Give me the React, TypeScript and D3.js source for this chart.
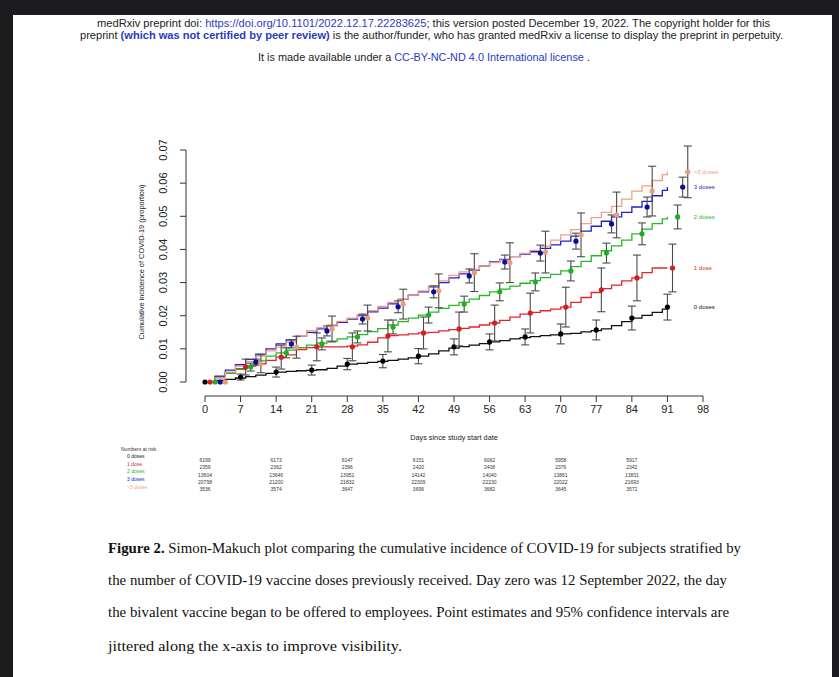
import React from 'react';
import * as d3 from 'd3';

// ---------- data ----------
const seriesNames = ['0 doses', '1 dose', '2 doses', '3 doses', '>3 doses'];
const seriesColors = ['#111111', '#e0282c', '#27b827', '#2020c8', '#f0a086'];
const pointColors = ['#000000', '#d41e22', '#1fae1f', '#0c0c9c', '#ec9a7c'];
const jitterDays = [0, 1, 2, 3, 4];

const lineDays = [0, 2, 4, 6, 8, 10, 12, 14, 16, 18, 20, 22, 24, 26, 28, 30, 32, 34, 36, 38, 40, 42, 44, 46, 48, 50, 52, 54, 56, 58, 60, 62, 64, 66, 68, 70, 72, 74, 76, 78, 80, 82, 84, 86, 88, 90, 91];
const line0 = [0, .0005, .0008, .0012, .0016, .0021, .0026, .0030, .0032, .0034, .0035, .0037, .0041, .0048, .0054, .0056, .0059, .0062, .0065, .0069, .0073, .0078, .0085, .0094, .0102, .0107, .0111, .0116, .0121, .0125, .0130, .0134, .0137, .0140, .0142, .0145, .0147, .0151, .0155, .0160, .0170, .0182, .0193, .0201, .0210, .0220, .0226];
const line1 = [0, .0015, .0028, .0040, .0048, .0055, .0065, .0075, .0082, .0098, .0104, .0106, .0106, .0106, .0108, .0112, .0120, .0133, .0140, .0142, .0145, .0148, .0150, .0154, .0158, .0162, .0166, .0172, .0178, .0186, .0196, .0205, .0210, .0215, .0220, .0226, .0240, .0255, .0270, .0282, .0292, .0305, .0314, .0330, .0344, .0344, .0344];
const line2 = [0, .0014, .0026, .0038, .0050, .0064, .0078, .0088, .0096, .0104, .0111, .0117, .0123, .0130, .0136, .0143, .0152, .0161, .0172, .0182, .0193, .0202, .0211, .0222, .0231, .0240, .0250, .0261, .0272, .0280, .0289, .0298, .0306, .0315, .0325, .0335, .0348, .0364, .0381, .0396, .0411, .0428, .0447, .0461, .0478, .0492, .0498];
const line3 = [0, .0018, .0036, .0052, .0068, .0084, .0100, .0115, .0127, .0139, .0150, .0160, .0170, .0180, .0190, .0200, .0212, .0223, .0236, .0249, .0262, .0272, .0287, .0300, .0314, .0326, .0338, .0350, .0362, .0370, .0378, .0386, .0393, .0403, .0414, .0425, .0440, .0455, .0470, .0485, .0498, .0512, .0528, .0545, .0562, .0578, .0588];
const line4 = [0, .0012, .0030, .0048, .0062, .0078, .0094, .0105, .0120, .0140, .0155, .0164, .0172, .0183, .0193, .0203, .0215, .0228, .0240, .0250, .0262, .0275, .0290, .0305, .0322, .0332, .0340, .0350, .0360, .0368, .0378, .0388, .0397, .0410, .0428, .0444, .0460, .0478, .0496, .0512, .0530, .0552, .0576, .0592, .0608, .0626, .0634];

const pointDays = [0, 7, 14, 21, 28, 35, 42, 49, 56, 63, 70, 77, 84, 91];
const est0 = [0, .0015, .003, .0036, .0054, .0063, .0078, .0106, .0121, .0136, .0145, .0157, .0193, .0226];
const lo0 = [0, .0006, .0015, .0021, .0037, .0043, .0055, .0082, .0097, .0112, .0115, .0127, .0157, .0187];
const hi0 = [0, .0024, .0045, .0051, .0071, .0083, .0101, .0130, .0145, .0160, .0175, .0187, .0229, .0265];
const est1 = [0, .0045, .0075, .0106, .0106, .0139, .0148, .016, .0178, .0208, .0226, .0278, .0314, .0344];
const lo1 = [0, .0021, .0039, .0064, .0064, .0091, .0100, .0109, .0124, .0148, .0166, .0212, .0245, .0272];
const hi1 = [0, .0069, .0111, .0148, .0148, .0187, .0196, .0211, .0232, .0268, .0286, .0344, .0383, .0416];
const est2 = [0, .0045, .0088, .0115, .0136, .0166, .0202, .0235, .0272, .0302, .0335, .0389, .0447, .0498];
const lo2 = [0, .0033, .0073, .0097, .0118, .0145, .0178, .0211, .0245, .0275, .0305, .0359, .0414, .0462];
const hi2 = [0, .0057, .0103, .0133, .0154, .0187, .0226, .0259, .0299, .0329, .0365, .0419, .0480, .0534];
const est3 = [0, .006, .0115, .0154, .019, .0227, .0272, .032, .0362, .0389, .0425, .0477, .0528, .0588];
const lo3 = [0, .0051, .0103, .0139, .0175, .0209, .0254, .0299, .0341, .0365, .0401, .0450, .0498, .0558];
const hi3 = [0, .0069, .0127, .0169, .0205, .0245, .0290, .0341, .0383, .0413, .0449, .0504, .0558, .0618];
const est4 = [0, .0055, .0105, .016, .0193, .0235, .0275, .033, .036, .0392, .0444, .0504, .0576, .0634];
const lo4 = [0, .0028, .0072, .0121, .0154, .0190, .0224, .0273, .0300, .0329, .0378, .0435, .0501, .0556];
const hi4 = [0, .0082, .0138, .0199, .0232, .0280, .0326, .0387, .0420, .0455, .0510, .0573, .0651, .0712];

const xTicks = [0, 7, 14, 21, 28, 35, 42, 49, 56, 63, 70, 77, 84, 91, 98];
const yTicks = [0, 0.01, 0.02, 0.03, 0.04, 0.05, 0.06, 0.07];

const riskDays = [0, 14, 28, 42, 56, 70, 84];
const risk0 = [6199, 6173, 6147, 6151, 6062, 5958, 5917];
const risk1 = [2359, 2362, 2396, 2420, 2408, 2376, 2342];
const risk2 = [13604, 13646, 13951, 14142, 14040, 13861, 13831];
const risk3 = [20798, 21200, 21832, 22309, 22230, 22022, 21693];
const risk4 = [3536, 3574, 3647, 3696, 3682, 3645, 3572];

const captionLines = [
  'Simon-Makuch plot comparing the cumulative incidence of COVID-19 for subjects stratified by',
  'the number of COVID-19 vaccine doses previously received. Day zero was 12 September 2022, the day',
  'the bivalent vaccine began to be offered to employees. Point estimates and 95% confidence intervals are',
  'jittered along the x-axis to improve visibility.',
];

export default function App() {
  const W = 839, H = 677;
  const x = d3.scaleLinear().domain([0, 98]).range([205, 703]);
  const y = d3.scaleLinear().domain([0, 0.07]).range([382, 150]);
  const stepLine = d3.line<[number, number]>()
    .x(d => x(d[0]))
    .y(d => y(d[1]))
    .curve(d3.curveStepAfter);

  const lines = [line0, line1, line2, line3, line4];
  const ests = [est0, est1, est2, est3, est4];
  const los = [lo0, lo1, lo2, lo3, lo4];
  const his = [hi0, hi1, hi2, hi3, hi4];
  const risks = [risk0, risk1, risk2, risk3, risk4];

  const sans = 'Liberation Sans, Arial, sans-serif';
  const serif = 'Liberation Serif, Times New Roman, serif';
  const linkBlue = '#2a3bc0';
  const ciColor = '#4a4a4a';
  const cap = 4;

  return (
    <svg width={W} height={H} style={{ position: 'absolute', left: 0, top: 0 }} xmlns="http://www.w3.org/2000/svg">
      <rect x={0} y={0} width={W} height={H} fill="#1c1c1e" />
      <rect x={13} y={15} width={819} height={H - 15} fill="#ffffff" />

      {/* header */}
      <g fontFamily={sans} fontSize={10.5} fill="#222">
        <text x={97} y={27} textLength={673} lengthAdjust="spacingAndGlyphs">
          <tspan>medRxiv preprint doi: </tspan>
          <tspan fill={linkBlue}>https://doi.org/10.1101/2022.12.17.22283625</tspan>
          <tspan>; this version posted December 19, 2022. The copyright holder for this</tspan>
        </text>
        <text x={80} y={39} textLength={703} lengthAdjust="spacingAndGlyphs">
          <tspan>preprint  </tspan>
          <tspan fill={linkBlue} fontWeight="bold">(which was not certified by peer review)</tspan>
          <tspan> is the author/funder, who has granted medRxiv a license to display the preprint in perpetuity.</tspan>
        </text>
        <text x={258} y={61} textLength={332} lengthAdjust="spacingAndGlyphs">
          <tspan>It is made available under a </tspan>
          <tspan fill={linkBlue}>CC-BY-NC-ND 4.0 International license</tspan>
          <tspan> .</tspan>
        </text>
      </g>

      {/* y axis */}
      <g fontFamily={sans} fill="#222" stroke="none">
        <line x1={186} x2={186} y1={y(0)} y2={y(0.07)} stroke="#333" strokeWidth={1} />
        {yTicks.map(t => (
          <g key={t}>
            <line x1={180} x2={186} y1={y(t)} y2={y(t)} stroke="#333" strokeWidth={1} />
            <text x={167} y={y(t)} fontSize={11} textAnchor="middle" transform={`rotate(-90, 167, ${y(t)})`}>
              {t.toFixed(2)}
            </text>
          </g>
        ))}
        <text x={144} y={262} fontSize={6.8} textAnchor="middle" transform="rotate(-90, 144, 262)" textLength={155} lengthAdjust="spacingAndGlyphs">
          Cumulative incidence of COVID-19 (proportion)
        </text>
      </g>

      {/* x axis */}
      <g fontFamily={sans} fill="#222">
        <line x1={x(0)} x2={x(98)} y1={396} y2={396} stroke="#333" strokeWidth={1} />
        {xTicks.map(t => (
          <g key={t}>
            <line x1={x(t)} x2={x(t)} y1={396} y2={402} stroke="#333" strokeWidth={1} />
            <text x={x(t)} y={413} fontSize={11} textAnchor="middle">{t}</text>
          </g>
        ))}
        <text x={454} y={440} fontSize={7.3} textAnchor="middle">Days since study start date</text>
      </g>

      {/* step lines */}
      <g fill="none" strokeWidth={1.3}>
        {lines.map((vals, s) => (
          <path key={s} d={stepLine(lineDays.map((d, i) => [d, vals[i]] as [number, number])) || ''} stroke={seriesColors[s]} />
        ))}
      </g>

      {/* CIs and points */}
      {ests.map((est, s) => (
        <g key={s}>
          {pointDays.map((d, i) => {
            const cx = x(d + jitterDays[s]);
            if (i === 0) return null;
            return (
              <g key={d} stroke={ciColor} strokeWidth={1.1}>
                <line x1={cx} x2={cx} y1={y(los[s][i])} y2={y(his[s][i])} />
                <line x1={cx - cap} x2={cx + cap} y1={y(los[s][i])} y2={y(los[s][i])} />
                <line x1={cx - cap} x2={cx + cap} y1={y(his[s][i])} y2={y(his[s][i])} />
              </g>
            );
          })}
          {pointDays.map((d, i) => (
            <circle key={'p' + d} cx={x(d + jitterDays[s])} cy={y(est[i])} r={2.6} fill={pointColors[s]} />
          ))}
        </g>
      ))}

      {/* end labels */}
      <g fontFamily={sans} fontSize={6}>
        {ests.map((est, s) => (
          <text key={s} x={x(96.2)} y={y(est[est.length - 1])} dy="0.35em" fill={seriesColors[s]}>
            {seriesNames[s]}
          </text>
        ))}
      </g>

      {/* numbers at risk */}
      <g fontFamily={sans} fontSize={5}>
        <text x={121} y={450.5} fill="#333">Numbers at risk:</text>
        {seriesNames.map((n, s) => (
          <text key={n} x={127} y={458 + s * 7.7} fill={seriesColors[s]}>{n}</text>
        ))}
        {risks.map((row, s) => row.map((v, i) => (
          <text key={s + '-' + i} x={x(riskDays[i])} y={461.8 + s * 7.4} textAnchor="middle" fill="#333">{v}</text>
        )))}
      </g>

      {/* caption */}
      <g fontFamily={serif} fontSize={15} fill="#111">
        <text x={108} y={553} textLength={633} lengthAdjust="spacingAndGlyphs">
          <tspan fontWeight="bold">Figure 2. </tspan>
          <tspan>{captionLines[0]}</tspan>
        </text>
        <text x={108} y={585} textLength={619} lengthAdjust="spacingAndGlyphs">{captionLines[1]}</text>
        <text x={108} y={617} textLength={621} lengthAdjust="spacingAndGlyphs">{captionLines[2]}</text>
        <text x={108} y={651} textLength={294} lengthAdjust="spacingAndGlyphs">{captionLines[3]}</text>
      </g>
    </svg>
  );
}
